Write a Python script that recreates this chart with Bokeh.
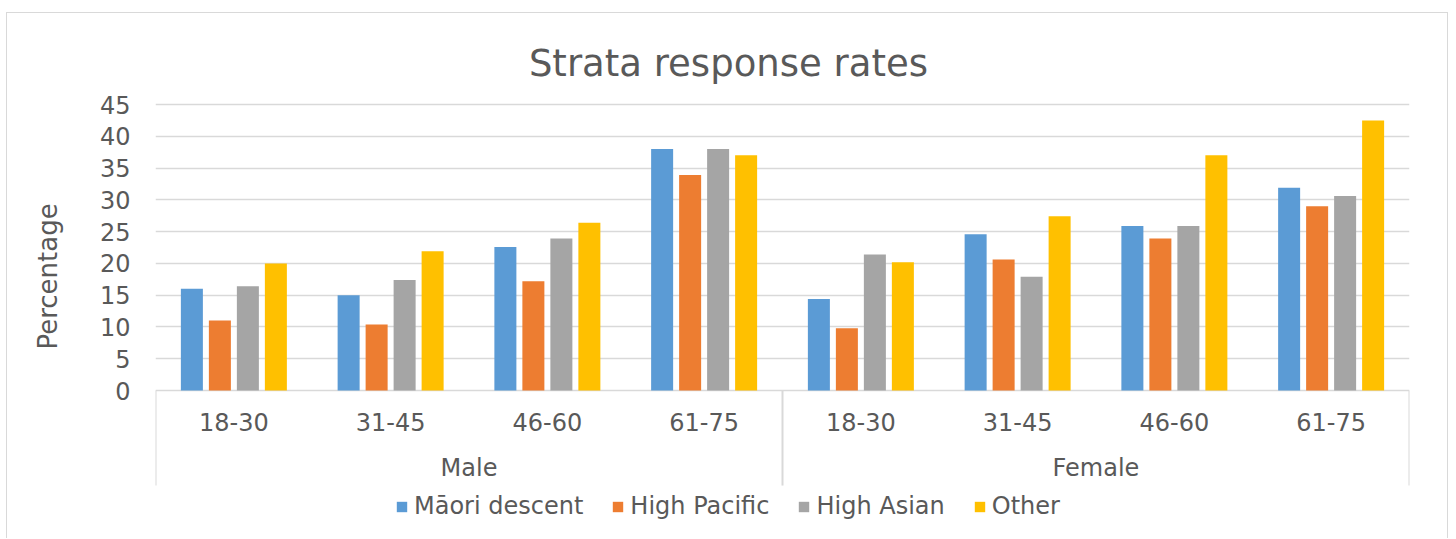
from bokeh.plotting import figure
from bokeh.models import Range1d, FixedTicker, Legend, LegendItem, ColumnDataSource
from bokeh.core.properties import value
from bokeh.embed import file_html
from bokeh.resources import INLINE

# ---- data ----
genders = ["Male", "Female"]
age_groups = ["18-30", "31-45", "46-60", "61-75"]
series_names = ["Māori descent", "High Pacific", "High Asian", "Other"]
maori = [16.0, 15.0, 22.6, 38.0, 14.4, 24.6, 25.9, 31.9]
pacific = [11.0, 10.4, 17.2, 33.9, 9.8, 20.6, 23.9, 29.0]
asian = [16.4, 17.4, 23.9, 38.0, 21.4, 17.9, 25.9, 30.6]
other = [20.0, 21.9, 26.4, 37.0, 20.2, 27.4, 37.0, 42.5]
y_ticks = [0, 5, 10, 15, 20, 25, 30, 35, 40, 45]
title_text = "Strata response rates"
y_title = "Percentage"

colors = ["#5B9BD5", "#ED7D31", "#A5A5A5", "#FFC000"]
text_color = "#595959"
grid_color = "#D9D9D9"
FONT = "DejaVu Sans"

categories = [(g, a) for g in genders for a in age_groups]
n_cat = len(categories)
centers = [i + 0.5 for i in range(n_cat)]

# frame spans the whole canvas height; value axis occupies 0..45
y_top = 59.32
y_bottom = -23.44
axis_low = -6.3        # lower end of axis bounds (positions the axis title)
cat_label_y = -5.0
group_label_y = -12.2
sep_bottom = -14.95
title_y = 51.5
title_x = 3.655

p = figure(width=1442, height=526, output_backend="svg", toolbar_location=None,
           x_range=Range1d(0, n_cat), y_range=Range1d(y_bottom, y_top),
           min_border_left=148, min_border_right=40, min_border_top=0, min_border_bottom=0)
p.title.visible = False
p.outline_line_color = None
p.background_fill_color = "white"
p.border_fill_color = "white"
p.xaxis.visible = False
p.xgrid.visible = False
p.ygrid.ticker = FixedTicker(ticks=y_ticks)
p.ygrid.grid_line_color = grid_color
p.ygrid.grid_line_width = 1.3
p.yaxis.ticker = FixedTicker(ticks=y_ticks)
p.yaxis.bounds = (axis_low, y_ticks[-1])
p.yaxis.axis_line_color = None
p.yaxis.major_tick_line_color = None
p.yaxis.minor_tick_line_color = None
p.yaxis.major_label_standoff = 19
p.yaxis.major_label_text_font = FONT
p.yaxis.major_label_text_font_size = "24px"
p.yaxis.major_label_text_color = text_color
p.yaxis.axis_label = y_title
p.yaxis.axis_label_text_font = FONT
p.yaxis.axis_label_text_font_size = "26px"
p.yaxis.axis_label_text_font_style = "normal"
p.yaxis.axis_label_text_color = text_color
p.yaxis.axis_label_standoff = 34

step = 0.1786
bw = 0.1404
series = [maori, pacific, asian, other]
items = []
for k, (name, vals, col) in enumerate(zip(series_names, series, colors)):
    src = ColumnDataSource(dict(x=[c + (k - 1.5) * step for c in centers], top=vals))
    r = p.vbar(x="x", top="top", bottom=0, width=bw, source=src,
               fill_color=col, line_color=None)
    items.append(LegendItem(label=name, renderers=[r]))

# separators of the grouped category axis
n_per = len(age_groups)
sep_x = [0] + [n_per * (i + 1) for i in range(len(genders))]
p.segment(x0=sep_x, x1=sep_x, y0=[0] * len(sep_x), y1=[sep_bottom] * len(sep_x),
          line_color=grid_color, line_width=2)

# category labels
p.text(x=centers, y=[cat_label_y] * n_cat, text=[a for g, a in categories],
       text_font=value(FONT), text_font_size="24px", text_color=text_color,
       text_align="center", text_baseline="middle")
p.text(x=[n_per * i + n_per / 2 for i in range(len(genders))], y=[group_label_y] * len(genders),
       text=genders, text_font=value(FONT), text_font_size="24px", text_color=text_color,
       text_align="center", text_baseline="middle")

# chart title
p.text(x=[title_x], y=[title_y], text=[title_text], text_font=value(FONT),
       text_font_size="37px", text_color=text_color, text_align="center",
       text_baseline="alphabetic")

legend = Legend(items=items, orientation="horizontal", location=(240, 19),
                glyph_width=13, glyph_height=13, label_standoff=6, spacing=28,
                padding=0, margin=0, border_line_color=None,
                label_text_font=FONT, label_text_font_size="24px", label_text_color=text_color,
                background_fill_alpha=0)
p.add_layout(legend, "center")

p.styles = {"margin-left": "6px", "margin-top": "12px",
            "border-top": "1px solid #D9D9D9", "border-left": "1px solid #D9D9D9",
            "border-right": "1px solid #D9D9D9"}

open("out.html", "w").write(file_html(p, INLINE))
